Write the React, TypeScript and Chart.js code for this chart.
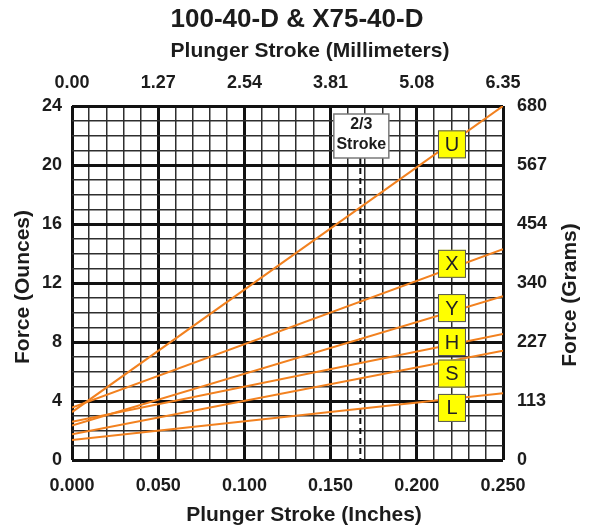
import React, { useEffect, useRef } from 'react';
import { Chart, registerables } from 'chart.js';

Chart.register(...registerables);

// ---- data ----
const strokeInches = [0, 0.25];
const forceU = [3.25, 24.0];
const forceX = [3.55, 14.3];
const forceY = [2.33, 11.1];
const forceH = [2.6, 8.54];
const forceS = [1.74, 7.41];
const forceL = [1.36, 4.52];

const seriesNames = ['U', 'X', 'Y', 'H', 'S', 'L'];
const seriesValues = [forceU, forceX, forceY, forceH, forceS, forceL];
const labelStroke = 0.2204;
const labelForce = [21.4, 13.3, 10.3, 8.0, 5.86, 3.53];

const mmLabels = ['0.00', '1.27', '2.54', '3.81', '5.08', '6.35'];
const gramLabels = ['0', '113', '227', '340', '454', '567', '680'];
const twoThirdStroke = (0.25 * 2) / 3;

const FONT = '"Liberation Sans", Arial, Helvetica, sans-serif';
const TEXT = '#1c1c1c';
const ORANGE = '#F2811F';

const isMult = (v: number, step: number) => Math.abs(v / step - Math.round(v / step)) < 1e-6;

const overlayPlugin = {
  id: 'overlay',
  beforeDatasetsDraw(chart: any) {
    const { ctx, chartArea, scales } = chart;
    const x = scales.x.getPixelForValue(twoThirdStroke) + 1;
    const boxTop = chartArea.top + 8;
    const boxH = 44;
    ctx.save();
    ctx.strokeStyle = '#111';
    ctx.lineWidth = 2;
    ctx.setLineDash([6, 4]);
    ctx.beginPath();
    ctx.moveTo(x, boxTop + boxH);
    ctx.lineTo(x, chartArea.bottom);
    ctx.stroke();
    ctx.restore();
  },
  afterDatasetsDraw(chart: any) {
    const { ctx, chartArea, scales } = chart;
    ctx.save();
    // 2/3 stroke box
    const x = scales.x.getPixelForValue(twoThirdStroke) + 2;
    const boxTop = chartArea.top + 8;
    const bw = 55, bh = 44;
    ctx.fillStyle = '#ffffff';
    ctx.fillRect(x - bw / 2, boxTop, bw, bh);
    ctx.strokeStyle = '#7a7a7a';
    ctx.lineWidth = 1.5;
    ctx.strokeRect(x - bw / 2, boxTop, bw, bh);
    ctx.fillStyle = TEXT;
    ctx.font = `bold 16px ${FONT}`;
    ctx.textAlign = 'center';
    ctx.textBaseline = 'middle';
    ctx.fillText('2/3', x, boxTop + 11);
    ctx.fillText('Stroke', x, boxTop + 31);

    // series labels
    const lx = scales.x.getPixelForValue(labelStroke);
    const s = 28;
    seriesNames.forEach((name, i) => {
      const ly = scales.y.getPixelForValue(labelForce[i]);
      ctx.fillStyle = '#FFFF00';
      ctx.fillRect(lx - s / 2, ly - s / 2, s, s);
      ctx.strokeStyle = '#555';
      ctx.lineWidth = 1;
      ctx.strokeRect(lx - s / 2 + 0.5, ly - s / 2 + 0.5, s - 1, s - 1);
      ctx.fillStyle = '#222';
      ctx.font = `20px ${FONT}`;
      ctx.textAlign = 'center';
      ctx.textBaseline = 'middle';
      ctx.fillText(name, lx, ly + 1);
    });
    ctx.restore();
  },
  afterDraw(chart: any) {
    const { ctx } = chart;
    ctx.save();
    ctx.fillStyle = TEXT;
    ctx.textAlign = 'center';
    ctx.textBaseline = 'middle';
    ctx.font = `bold 26px ${FONT}`;
    ctx.fillText('100-40-D & X75-40-D', 297, 20);
    ctx.font = `bold 21px ${FONT}`;
    ctx.fillText('Plunger Stroke (Millimeters)', 310, 51);
    ctx.font = `bold 21px ${FONT}`;
    ctx.fillText('Plunger Stroke (Inches)', 304, 515);
    ctx.save();
    ctx.translate(23, 287);
    ctx.rotate(-Math.PI / 2);
    ctx.fillText('Force (Ounces)', 0, 0);
    ctx.restore();
    ctx.save();
    ctx.translate(570, 295);
    ctx.rotate(-Math.PI / 2);
    ctx.fillText('Force (Grams)', 0, 0);
    ctx.restore();
    ctx.restore();
  },
};

export default function App() {
  const ref = useRef<HTMLCanvasElement | null>(null);
  useEffect(() => {
    if (!ref.current) return;
    const tickFont = { family: FONT, size: 18, weight: 'bold' as const };
    const chart = new Chart(ref.current, {
      type: 'line',
      data: {
        datasets: seriesNames.map((name, i) => ({
          label: name,
          data: strokeInches.map((xv, j) => ({ x: xv, y: seriesValues[i][j] })),
          borderColor: ORANGE,
          borderWidth: 2,
          pointRadius: 0,
          fill: false,
          tension: 0,
        })),
      },
      options: {
        animation: false,
        responsive: true,
        maintainAspectRatio: false,
        layout: { padding: 0 },
        plugins: {
          legend: { display: false },
          tooltip: { enabled: false },
          title: { display: false },
        },
        scales: {
          x: {
            type: 'linear',
            position: 'bottom',
            min: 0,
            max: 0.25,
            border: { display: false },
            grid: {
              drawTicks: false,
              color: (c: any) => (isMult(c.tick?.value ?? 0, 0.05) ? '#111' : '#2e2e2e'),
              lineWidth: (c: any) => (isMult(c.tick?.value ?? 0, 0.05) ? 3 : 1.5),
            },
            ticks: {
              stepSize: 0.01,
              autoSkip: false,
              maxRotation: 0,
              padding: 15,
              color: TEXT,
              font: tickFont,
              callback: (v: any) => (isMult(Number(v), 0.05) ? Number(v).toFixed(3) : ''),
            },
            afterFit: (s: any) => { s.height = 67; },
          },
          xTop: {
            type: 'linear',
            position: 'top',
            min: 0,
            max: 0.25,
            border: { display: false },
            grid: { display: false, drawTicks: false },
            ticks: {
              stepSize: 0.05,
              autoSkip: false,
              maxRotation: 0,
              padding: 12,
              color: TEXT,
              font: tickFont,
              callback: (v: any) => mmLabels[Math.round(Number(v) / 0.05)] ?? '',
            },
            afterFit: (s: any) => { s.height = 106; },
          },
          y: {
            type: 'linear',
            position: 'left',
            min: 0,
            max: 24,
            border: { display: false },
            grid: {
              drawTicks: false,
              color: (c: any) => (isMult(c.tick?.value ?? 0, 4) ? '#111' : '#2e2e2e'),
              lineWidth: (c: any) => (isMult(c.tick?.value ?? 0, 4) ? 3 : 1.5),
            },
            ticks: {
              stepSize: 1,
              autoSkip: false,
              padding: 10,
              color: TEXT,
              font: tickFont,
              callback: (v: any) => (isMult(Number(v), 4) ? String(v) : ''),
            },
            afterFit: (s: any) => { s.width = 72; },
          },
          yRight: {
            type: 'linear',
            position: 'right',
            min: 0,
            max: 24,
            border: { display: false },
            grid: { display: false, drawTicks: false },
            ticks: {
              stepSize: 4,
              autoSkip: false,
              padding: 14,
              color: TEXT,
              font: tickFont,
              callback: (v: any) => gramLabels[Math.round(Number(v) / 4)] ?? '',
            },
            afterFit: (s: any) => { s.width = 89; },
          },
        },
      },
      plugins: [overlayPlugin],
    });
    return () => chart.destroy();
  }, []);
  return (
    <div style={{ position: 'fixed', left: 0, top: 0, width: 592, height: 527, background: '#fff' }}>
      <canvas ref={ref} />
    </div>
  );
}
